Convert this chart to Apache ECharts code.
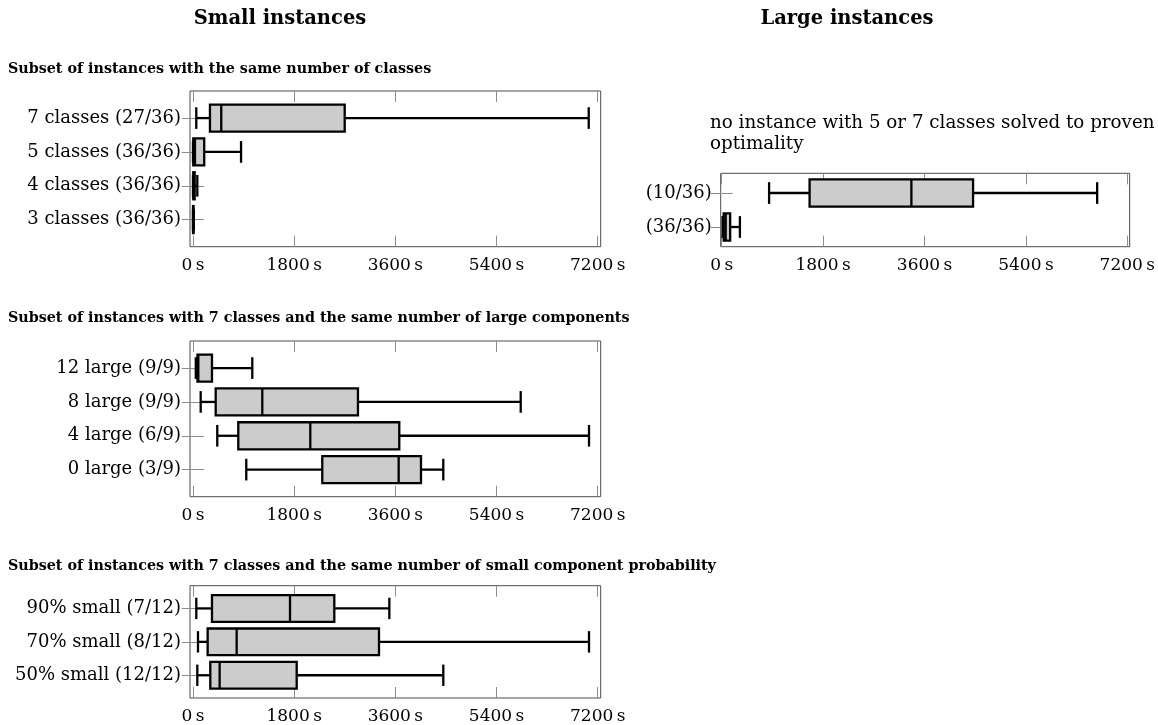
<!DOCTYPE html>
<html>
<head>
<meta charset="utf-8">
<script src="https://cdn.jsdelivr.net/npm/echarts@6/dist/echarts.min.js"></script>
<style>
  html, body { margin: 0; padding: 0; background: #fff; }
  #chart { width: 1158px; height: 725px; }
</style>
</head>
<body>
<div id="chart"></div>
<script>
// x ticks (seconds)
const timeTicks = [0, 1800, 3600, 5400, 7200];

// small instances, same number of classes (bottom to top)
const classCats = ['3 classes (36/36)', '4 classes (36/36)', '5 classes (36/36)', '7 classes (27/36)'];
const classLow = [0, 0, 0, 59];
const classQ1 = [1, 5, 5, 302];
const classMed = [3, 15, 35, 503];
const classQ3 = [8, 30, 200, 2699];
const classHigh = [15, 77, 855, 7040];

// large instances (bottom to top)
const largeCats = ['(36/36)', '(10/36)'];
const largeLow = [15, 841];
const largeQ1 = [35, 1560];
const largeMed = [70, 3367];
const largeQ3 = [150, 4462];
const largeHigh = [323, 6665];

// 7 classes, same number of large components (bottom to top)
const compCats = ['0 large (3/9)', '4 large (6/9)', '8 large (9/9)', '12 large (9/9)'];
const compLow = [948, 432, 137, 50];
const compQ1 = [2300, 806, 404, 80];
const compMed = [3659, 2087, 1233, 95];
const compQ3 = [4056, 3670, 2935, 338];
const compHigh = [4453, 7045, 5830, 1055];

// 7 classes, same small component probability (bottom to top)
const probCats = ['50% small (12/12)', '70% small (8/12)', '90% small (7/12)'];
const probLow = [77, 89, 59];
const probQ1 = [308, 261, 338];
const probMed = [474, 777, 1726];
const probQ3 = [1845, 3309, 2514];
const probHigh = [4453, 7045, 3493];

const serif = '"DejaVu Serif", "Liberation Serif", serif';
const tickColor = '#8c8c8c';

const chart = echarts.init(document.getElementById('chart'));

function rows(low, q1, med, q3, high) {
  return low.map(function (v, i) {
    return [i + 1, v, q1[i], med[i], q3[i], high[i]];
  });
}

function renderBox(params, api) {
  const y = api.value(0);
  const lo = api.coord([api.value(1), y]);
  const q1 = api.coord([api.value(2), y]);
  const md = api.coord([api.value(3), y]);
  const q3 = api.coord([api.value(4), y]);
  const hi = api.coord([api.value(5), y]);
  const unit = api.size([0, 1])[1];
  const bh = unit * 0.8;   // box extend
  const ch = unit * 0.64;  // whisker extend
  const cy = lo[1];
  const line = { stroke: '#000', lineWidth: 2.3 };
  return {
    type: 'group',
    children: [
      { type: 'line', shape: { x1: lo[0], y1: cy, x2: q1[0], y2: cy }, style: line },
      { type: 'line', shape: { x1: q3[0], y1: cy, x2: hi[0], y2: cy }, style: line },
      { type: 'line', shape: { x1: lo[0], y1: cy - ch / 2, x2: lo[0], y2: cy + ch / 2 }, style: line },
      { type: 'line', shape: { x1: hi[0], y1: cy - ch / 2, x2: hi[0], y2: cy + ch / 2 }, style: line },
      {
        type: 'rect',
        shape: { x: q1[0], y: cy - bh / 2, width: Math.max(q3[0] - q1[0], 0.5), height: bh },
        style: { fill: '#cccccc', stroke: '#000', lineWidth: 2.3 }
      },
      { type: 'line', shape: { x1: md[0], y1: cy - bh / 2, x2: md[0], y2: cy + bh / 2 }, style: line }
    ]
  };
}

// panel layout: grid box in px + axis ranges
const panels = [
  { cats: classCats, data: rows(classLow, classQ1, classMed, classQ3, classHigh),
    left: 190, top: 91, width: 410.7, height: 155.7, xmin: -53, xmax: 7253, ymin: 0.2, ymax: 4.8 },
  { cats: largeCats, data: rows(largeLow, largeQ1, largeMed, largeQ3, largeHigh),
    left: 720.7, top: 173.3, width: 411, height: 73.4, xmin: -18, xmax: 7242, ymin: 0.42, ymax: 2.58 },
  { cats: compCats, data: rows(compLow, compQ1, compMed, compQ3, compHigh),
    left: 190, top: 341, width: 410.7, height: 155.7, xmin: -53, xmax: 7253, ymin: 0.2, ymax: 4.8 },
  { cats: probCats, data: rows(probLow, probQ1, probMed, probQ3, probHigh),
    left: 190, top: 585.7, width: 410.7, height: 114.3, xmin: -53, xmax: 7253, ymin: 0.32, ymax: 3.68 }
];

const grids = [], xAxes = [], yAxes = [], series = [];

panels.forEach(function (p, i) {
  const idx = p.cats.map(function (c, k) { return k + 1; });
  grids.push({
    left: p.left, top: p.top, width: p.width, height: p.height,
    show: true, borderColor: '#4d4d4d', borderWidth: 1, backgroundColor: 'transparent'
  });
  // bottom x axis with labels
  xAxes.push({
    type: 'value', gridIndex: i, position: 'bottom', min: p.xmin, max: p.xmax,
    axisLine: { show: false },
    splitLine: { show: false },
    axisTick: { inside: true, length: 11, customValues: timeTicks, lineStyle: { color: tickColor } },
    axisLabel: {
      customValues: timeTicks, margin: 10, color: '#000', fontFamily: serif, fontSize: 17,
      formatter: function (v) { return v + '\u2009s'; }
    }
  });
  // top x axis, ticks only
  xAxes.push({
    type: 'value', gridIndex: i, position: 'top', min: p.xmin, max: p.xmax,
    axisLine: { show: false },
    splitLine: { show: false },
    axisTick: { inside: true, length: 11, customValues: timeTicks, lineStyle: { color: tickColor } },
    axisLabel: { show: false }
  });
  // left y axis with category names
  yAxes.push({
    type: 'value', gridIndex: i, position: 'left', min: p.ymin, max: p.ymax,
    axisLine: { show: false },
    splitLine: { show: false },
    axisTick: { inside: true, length: 11, customValues: idx, lineStyle: { color: tickColor } },
    axisLabel: {
      customValues: idx, margin: 9, color: '#000', fontFamily: serif, fontSize: 18,
      formatter: function (v) { return p.cats[Math.round(v) - 1]; }
    }
  });
  // right y axis, ticks only
  yAxes.push({
    type: 'value', gridIndex: i, position: 'right', min: p.ymin, max: p.ymax,
    axisLine: { show: false },
    splitLine: { show: false },
    axisTick: { inside: true, length: 11, customValues: idx, lineStyle: { color: tickColor } },
    axisLabel: { show: false }
  });
  series.push({
    type: 'custom',
    xAxisIndex: i * 2,
    yAxisIndex: i * 2,
    renderItem: renderBox,
    encode: { x: [1, 2, 3, 4, 5], y: 0 },
    data: p.data,
    silent: true
  });
});

function label(text, x, y, font, align) {
  return {
    type: 'text', x: x, y: y,
    style: { text: text, font: font, fill: '#000', textAlign: align || 'left', textVerticalAlign: 'middle' }
  };
}

const titleFont = 'bold 19.5px ' + serif;
const subFont = 'bold 14.3px ' + serif;
const noteFont = '18.3px ' + serif;

const option = {
  animation: false,
  grid: grids,
  xAxis: xAxes,
  yAxis: yAxes,
  series: series,
  graphic: [
    label('Small instances', 280, 19, titleFont, 'center'),
    label('Large instances', 847, 19, titleFont, 'center'),
    label('Subset of instances with the same number of classes', 8, 69, subFont),
    label('Subset of instances with 7 classes and the same number of large components', 8, 318, subFont),
    label('Subset of instances with 7 classes and the same number of small component probability', 8, 566, subFont),
    label('no instance with 5 or 7 classes solved to proven', 710, 123, noteFont),
    label('optimality', 710, 144, noteFont)
  ]
};

chart.setOption(option);
</script>
</body>
</html>
